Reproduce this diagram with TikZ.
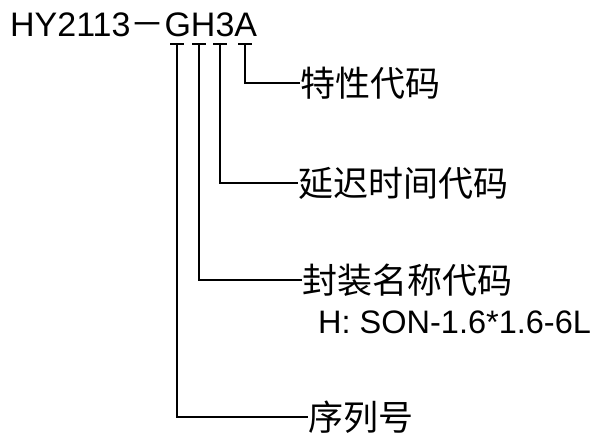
\documentclass[tikz,border=0pt]{standalone}
\usepackage{fontspec}
\setmainfont{Liberation Sans}
\newfontfamily\cjk{Noto Sans CJK SC}
\begin{document}
\begin{tikzpicture}[x=1pt, y=-1pt,
  every node/.style={inner sep=0pt},
  lab/.style={anchor=west, font=\cjk\fontsize{35}{42}\selectfont},
  lead/.style={line width=1.5pt}]
\useasboundingbox (0,0) rectangle (597,436);
% 1. the part number
\node[anchor=base west, font=\fontsize{34}{40}\selectfont] (code) at (10,37) {HY2113{\cjk －}GH3A};
% 2. tee heads under G, H, 3 and A
\foreach \n/\x in {g/177, h/199, t/220, a/245}{
  \coordinate (\n) at (\x,44);
  \draw[lead] ([xshift=-7]\n) -- ([xshift=7]\n);
}
% 3. the meaning of each field
\node[lab] (feat) at (300,83) {特性代码};
\node[lab] (delay) at (298,183) {延迟时间代码};
\node[lab] (pkg) at (302,280) {封装名称代码};
\node[anchor=base west, font=\fontsize{32.5}{39}\selectfont] (spec) at (318,333) {H: SON-1.6*1.6-6L};
\node[lab] (ser) at (308,417) {序列号};
% 4. leaders from each tee to its label
\draw[lead] (a) |- (feat.west);
\draw[lead] (t) |- (delay.west);
\draw[lead] (h) |- (pkg.west);
\draw[lead] (g) |- (ser.west);
\end{tikzpicture}
\end{document}
